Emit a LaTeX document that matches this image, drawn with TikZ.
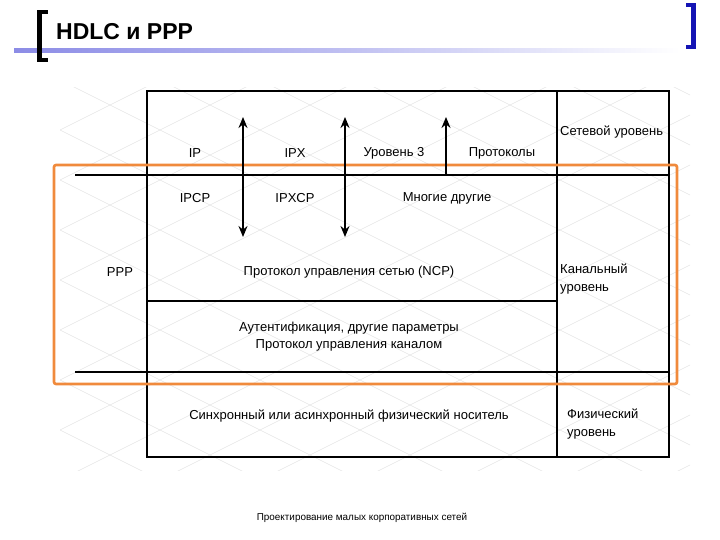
\documentclass[tikz,border=0pt]{standalone}
\usepackage{fontspec}
\setmainfont{Liberation Sans}
\usetikzlibrary{arrows.meta}
\definecolor{orng}{HTML}{F08A3C}
\definecolor{bbl}{HTML}{1414B4}
\definecolor{lav}{HTML}{8C8CE6}
\tikzset{
  box/.style={line width=1.6pt, black},
  lbl/.style={font=\fontsize{13}{15}\selectfont, inner sep=0pt},
  side/.style={font=\fontsize{13}{18}\selectfont, inner sep=0pt, anchor=north west, align=left},
  updown/.style={line width=1.6pt, {Stealth[length=11pt,width=9pt]}-{Stealth[length=11pt,width=9pt]}},
  uponly/.style={line width=1.6pt, -{Stealth[length=11pt,width=9pt]}},
  lattice/.style={black!10, line width=0.5pt},
}
\begin{document}
\begin{tikzpicture}[x=1pt,y=-1pt]
\useasboundingbox (0,0) rectangle (720,540);
% background lattice
\begin{scope}
\clip (60,88) rectangle (690,470);
\foreach \c in {-800,-750,...,800} {
  \draw[lattice] (0,\c) -- (720,\c+360);
  \draw[lattice] (0,\c+360) -- (720,\c);
}
\end{scope}
% title
\shade[left color=lav, right color=white, middle color=lav!55] (14,48.5) rectangle (680,53);
\fill[black] (37,10) rectangle (42,62);
\fill[black] (37,10) rectangle (48,14);
\fill[black] (37,58) rectangle (48,62);
\fill[bbl] (691,3) rectangle (696,49);
\fill[bbl] (686,3) rectangle (696,7);
\fill[bbl] (686,45) rectangle (696,49);
\node[anchor=west, font=\bfseries\fontsize{23}{26}\selectfont, inner sep=0pt] (title) at (56,32) {HDLC и PPP};
% grid
\coordinate (tl) at (147,91);
\coordinate (br) at (669,457);
\draw[box] (tl) rectangle (br);
\draw[box] (557,91) -- (557,457);
\draw[box] (75,175) -- (669,175);
\draw[box] (75,372) -- (669,372);
\draw[box] (147,301) -- (557,301);
% orange frame
\draw[orng, line width=2.6pt, rounded corners=2pt] (54,165) rectangle (677,384);
% arrows
\coordinate (a1t) at (243,117); \coordinate (a1b) at (243,237);
\coordinate (a2t) at (345,117); \coordinate (a2b) at (345,237);
\coordinate (a3t) at (446,117); \coordinate (a3b) at (446,175);
\draw[updown] (a1b) -- (a1t);
\draw[updown] (a2b) -- (a2t);
\draw[uponly] (a3b) -- (a3t);
% labels
\node[lbl] (ip) at (195,153) {IP};
\node[lbl] (ipx) at (295,153) {IPX};
\node[lbl] (l3) at (394,153) {Уровень 3};
\node[lbl] (prot) at (502,153) {Протоколы};
\node[lbl] (ipcp) at (195,198) {IPCP};
\node[lbl] (ipxcp) at (295,198) {IPXCP};
\node[lbl] (many) at (447,198) {Многие другие};
\node[lbl] (ncp) at (349,272) {Протокол управления сетью (NCP)};
\node[lbl] (ppp) at (120,272) {PPP};
\node[lbl, align=center, font=\fontsize{13}{17}\selectfont] (lcp) at (349,337) {Аутентификация, другие параметры\\Протокол управления каналом};
\node[lbl] (phys) at (349,416) {Синхронный или асинхронный физический носитель};
\node[side] (net) at (560,126) {Сетевой уровень};
\node[side] (link) at (560,264) {Канальный\\уровень};
\node[side] (physl) at (567,409) {Физический\\уровень};
\node[font=\fontsize{9.9}{11}\selectfont, inner sep=0pt] (foot) at (362,518) {Проектирование малых корпоративных сетей};
\end{tikzpicture}
\end{document}
